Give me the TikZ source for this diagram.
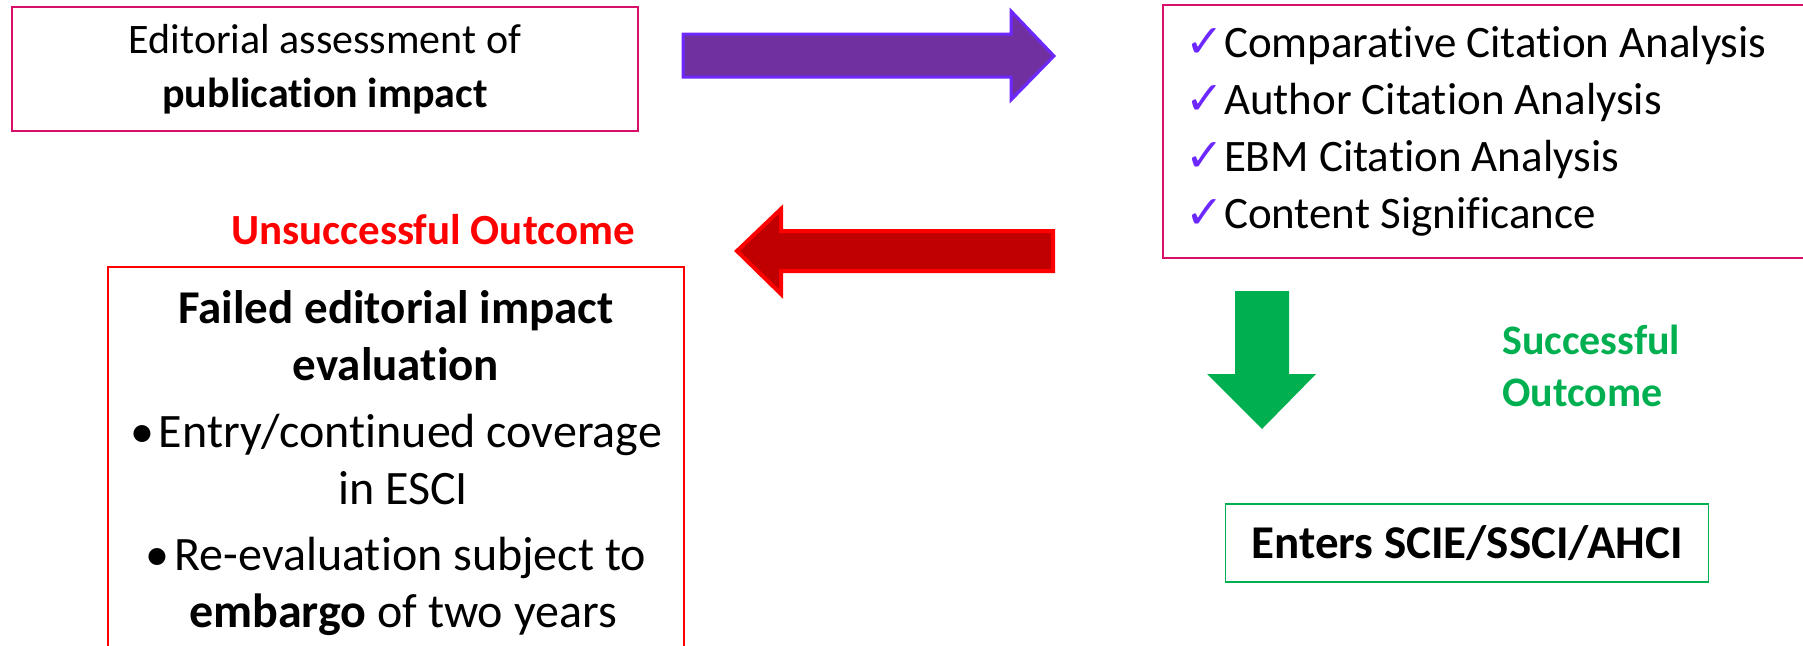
\documentclass[tikz,border=0pt]{standalone}
\usepackage{fontspec}
\setmainfont{Carlito}[Ligatures=NoCommon]
\newfontfamily\symfont{DejaVu Sans}
\usetikzlibrary{positioning}

\definecolor{boxpink}{RGB}{216,15,106}
\definecolor{arrowpurple}{RGB}{112,48,160}
\definecolor{edgeviolet}{RGB}{108,40,255}
\definecolor{arrowred}{RGB}{192,0,0}
\definecolor{edgered}{RGB}{255,0,0}
\definecolor{okgreen}{RGB}{0,176,80}

\newcommand{\tick}{\makebox[39pt][l]{\symfont\color{edgeviolet}\fontsize{46}{46}\selectfont ✓}}

\begin{document}
\begin{tikzpicture}[x=1pt,y=-1pt,
	assessbox/.style={draw=boxpink, line width=2pt, align=flush center, inner sep=0pt,
		minimum width=626pt, minimum height=124pt, font=\fontsize{42}{54}\selectfont},
	listbox/.style={draw=boxpink, line width=2pt, align=flush left, inner xsep=22pt, inner ysep=0pt,
		text width=640pt, minimum height=253pt, font=\fontsize{45}{57}\selectfont},
	failbox/.style={draw=edgered, line width=1.5pt, align=flush center, inner xsep=8pt, inner ysep=24pt,
		text width=560pt, font=\fontsize{48}{57}\selectfont},
	enterbox/.style={draw=okgreen, line width=1.5pt, inner sep=0pt,
		minimum width=483pt, minimum height=78pt, font=\fontsize{47}{47}\selectfont\bfseries}]
	\useasboundingbox (0,0) rectangle (1803,645);

	% boxes
	\node[assessbox] (assess) at (325,69) {Editorial assessment of\\\textbf{publication impact}};
	\node[listbox, anchor=north west] (checks) at (1162,4)
		{\tick Comparative Citation Analysis\\\tick Author Citation Analysis\\
		 \tick EBM Citation Analysis\\\tick Content Significance};
	\node[failbox, anchor=north] (failed) at (396,266)
		{{\fontsize{47}{57}\selectfont\bfseries Failed editorial impact}\\
		 {\fontsize{47}{57}\selectfont\bfseries evaluation}\\[10pt]
		 •\kern5pt Entry/continued coverage\\
		 \hspace*{14pt}in ESCI\\[9pt]
		 •\kern5pt Re-evaluation subject to\\
		 \hspace*{14pt}\textbf{embargo} of two years};
	\node[enterbox] (enters) at (1467,543) {Enters SCIE/SSCI/AHCI};

	% outcome labels
	\node[text=edgered, font=\fontsize{43}{43}\selectfont\bfseries] (nolabel) at (433,230) {Unsuccessful Outcome};
	\node[text=okgreen, align=flush left, anchor=west, inner sep=0pt,
		font=\fontsize{42}{52}\selectfont\bfseries] (yeslabel) at (1502,366) {Successful\\Outcome};

	% block arrows
	\draw[line width=3pt, draw=edgeviolet, fill=arrowpurple]
		(683,34)--(1011,34)--(1011,11)--(1054,56)--(1011,100)--(1011,77)--(683,77)--cycle;
	\draw[line width=4pt, draw=edgered, fill=arrowred]
		(1053,231)--(781,231)--(781,209)--(737,251)--(781,294)--(781,271)--(1053,271)--cycle;
	\fill[okgreen]
		(1235,291)--(1289,291)--(1289,374)--(1316,374)--(1262,429)--(1207,374)--(1235,374)--cycle;
\end{tikzpicture}
\end{document}
